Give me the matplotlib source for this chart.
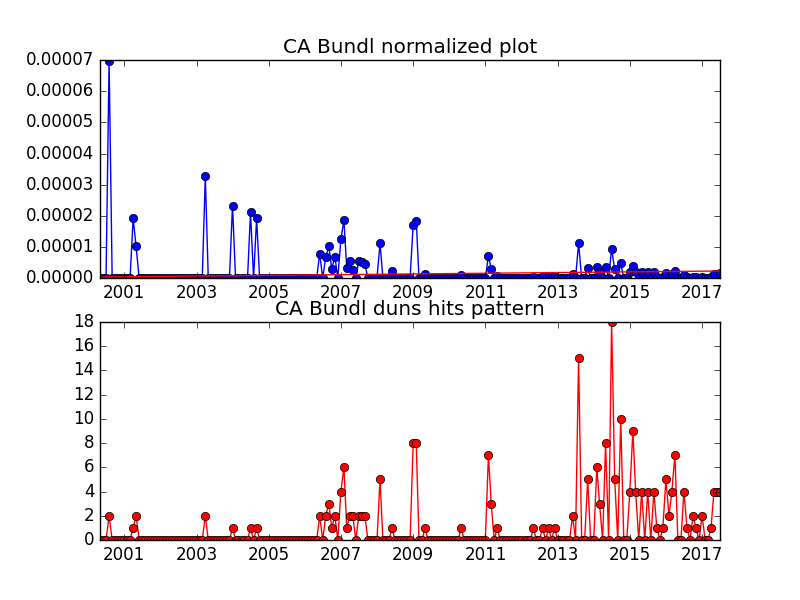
import matplotlib
matplotlib.use("Agg")
import matplotlib.pyplot as plt
import matplotlib.dates as mdates
from matplotlib.ticker import FormatStrFormatter
import pandas as pd
import datetime as dt

plt.style.use('classic')

# monthly series, month-end dates
first_month = '2000-04-30'
last_month = '2017-06-30'

# months with hits (all other months are zero)
hit_months = ['2000-07', '2001-03', '2001-04', '2003-03', '2003-12', '2004-06', '2004-08',
              '2006-05', '2006-07', '2006-08', '2006-09', '2006-10', '2006-12', '2007-01',
              '2007-02', '2007-03', '2007-04', '2007-06', '2007-07', '2007-08', '2008-01',
              '2008-05', '2008-12', '2009-01', '2009-04', '2010-04', '2011-01', '2011-02',
              '2011-04', '2012-04', '2012-07', '2012-09', '2012-11', '2013-05', '2013-07',
              '2013-10', '2014-01', '2014-02', '2014-04', '2014-06', '2014-07', '2014-09',
              '2014-12', '2015-01', '2015-02', '2015-04', '2015-06', '2015-08', '2015-09',
              '2015-11', '2015-12', '2016-01', '2016-02', '2016-03', '2016-06', '2016-07',
              '2016-09', '2016-10', '2016-12', '2017-03', '2017-04', '2017-05', '2017-06']

hits = [2, 1, 2, 2, 1, 1, 1,
        2, 2, 3, 1, 2, 4, 6,
        1, 2, 2, 2, 2, 2, 5,
        1, 8, 8, 1, 1, 7, 3,
        1, 1, 1, 1, 1, 2, 15,
        5, 6, 3, 8, 18, 5, 10,
        4, 9, 4, 4, 4, 4, 1,
        1, 5, 2, 4, 7, 4, 1,
        2, 1, 2, 1, 4, 4, 4]

normalized = [6.97e-5, 1.92e-5, 1.02e-5, 3.27e-5, 2.33e-5, 2.11e-5, 1.92e-5,
              0.79e-5, 0.68e-5, 1.02e-5, 0.30e-5, 0.69e-5, 1.25e-5, 1.86e-5,
              0.33e-5, 0.56e-5, 0.27e-5, 0.55e-5, 0.52e-5, 0.46e-5, 1.12e-5,
              0.24e-5, 1.72e-5, 1.85e-5, 0.12e-5, 0.10e-5, 0.72e-5, 0.30e-5,
              0.07e-5, 0.04e-5, 0.08e-5, 0.08e-5, 0.07e-5, 0.15e-5, 1.12e-5,
              0.33e-5, 0.37e-5, 0.19e-5, 0.37e-5, 0.94e-5, 0.28e-5, 0.49e-5,
              0.20e-5, 0.40e-5, 0.20e-5, 0.19e-5, 0.19e-5, 0.19e-5, 0.05e-5,
              0.05e-5, 0.16e-5, 0.07e-5, 0.14e-5, 0.22e-5, 0.09e-5, 0.03e-5,
              0.05e-5, 0.03e-5, 0.05e-5, 0.04e-5, 0.15e-5, 0.15e-5, 0.17e-5]

# trend line end values (top plot)
trend_start = 0.04e-5
trend_end = 0.23e-5

dates = pd.date_range(first_month, last_month, freq='ME')
idx = pd.PeriodIndex(hit_months, freq='M').to_timestamp(how='end').normalize()
hits_s = pd.Series(hits, index=idx).reindex(dates, fill_value=0)
norm_s = pd.Series(normalized, index=idx).reindex(dates, fill_value=0.0)

fig = plt.figure(figsize=(8, 6), dpi=100)

ax1 = fig.add_subplot(2, 1, 1)
ax1.plot(dates, norm_s.values, 'b-o')
ax1.plot([dates[0], dates[-1]], [trend_start, trend_end], 'r-')
ax1.set_title('CA Bundl normalized plot')
ax1.set_ylim(0, 0.00007)
ax1.yaxis.set_major_formatter(FormatStrFormatter('%.5f'))

ax2 = fig.add_subplot(2, 1, 2)
ax2.plot(dates, hits_s.values, 'r-o')
ax2.set_title('CA Bundl duns hits pattern')
ax2.set_ylim(0, 18)
ax2.set_yticks(range(0, 19, 2))

year_ticks = [dt.datetime(y, 1, 1) for y in range(2001, 2018, 2)]
for ax in (ax1, ax2):
    ax.set_xlim(dates[0], dates[-1])
    ax.set_xticks(year_ticks)
    ax.xaxis.set_major_formatter(mdates.DateFormatter('%Y'))

fig.savefig('out.png', dpi=100, facecolor='white')
